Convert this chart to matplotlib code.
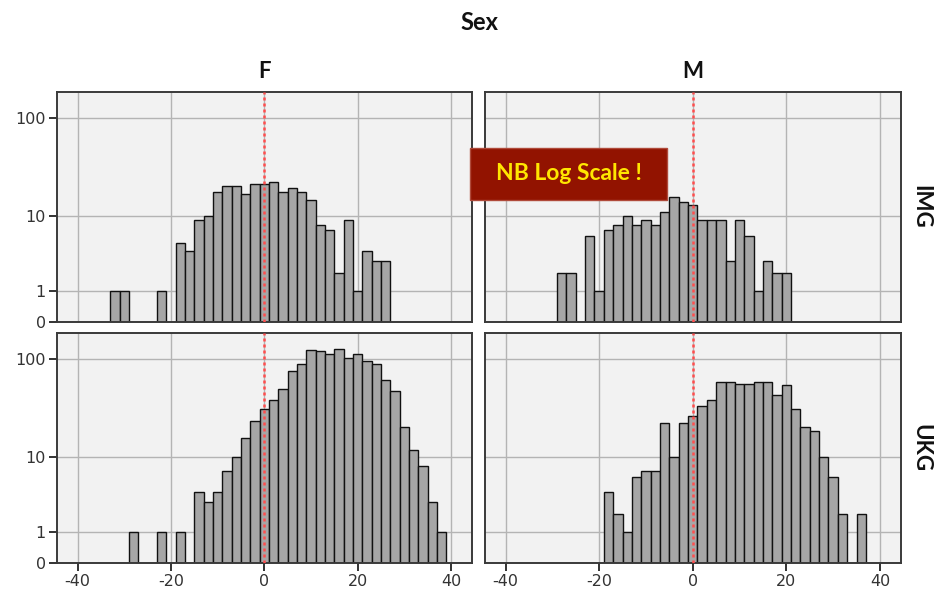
import numpy as np
import matplotlib
matplotlib.use("Agg")
import matplotlib.pyplot as plt
from matplotlib.patches import Rectangle

# ---------------- data ----------------
row_labels = ["IMG", "UKG"]
col_labels = ["F", "M"]
x_ticks = [-40, -20, 0, 20, 40]
y_ticks = [0, 1, 10, 100]

# bin centres (bin width 2)
img_f_centers = [-32, -30, -22, -18, -16, -14, -12, -10, -8, -6, -4, -2, 0, 2, 4, 6, 8,
                 10, 12, 14, 16, 18, 20, 22, 24, 26]
img_f_counts = [1, 1, 1, 5, 4, 9, 10, 18, 21, 21, 17, 22, 22, 23, 18, 20, 18,
                15, 8, 7, 2, 9, 1, 4, 3, 3]

img_m_centers = [-28, -26, -22, -20, -18, -16, -14, -12, -10, -8, -6, -4, -2, 0, 2, 4,
                 6, 8, 10, 12, 14, 16, 18, 20]
img_m_counts = [2, 2, 6, 1, 7, 8, 10, 8, 9, 8, 11, 16, 14, 13, 9, 9,
                9, 3, 9, 6, 1, 3, 2, 2]

ukg_f_centers = [-28, -22, -18, -14, -12, -10, -8, -6, -4, -2, 0, 2, 4, 6, 8, 10, 12,
                 14, 16, 18, 20, 22, 24, 26, 28, 30, 32, 34, 36, 38]
ukg_f_counts = [1, 1, 1, 4, 3, 4, 7, 10, 16, 24, 32, 39, 51, 77, 90, 123, 121,
                113, 127, 104, 113, 97, 90, 62, 48, 21, 12, 8, 3, 1]

ukg_m_centers = [-18, -16, -14, -12, -10, -8, -6, -4, -2, 0, 2, 4, 6, 8, 10, 12, 14,
                 16, 18, 20, 22, 24, 26, 28, 30, 32, 36]
ukg_m_counts = [4, 2, 1, 6, 7, 7, 23, 10, 23, 27, 34, 39, 59, 59, 57, 56, 59,
                59, 44, 55, 32, 21, 19, 10, 6, 2, 2]

panels = {
    (0, 0): (img_f_centers, img_f_counts),
    (0, 1): (img_m_centers, img_m_counts),
    (1, 0): (ukg_f_centers, ukg_f_counts),
    (1, 1): (ukg_m_centers, ukg_m_counts),
}

# ---------------- figure ----------------
W, H = 934, 597
fig = plt.figure(figsize=(W / 100, H / 100), dpi=100)
fig.patch.set_facecolor("white")

def fwd(y):
    y = np.asarray(y, dtype=float)
    return np.log10(np.clip(y, 0, None) + 1)

def inv(t):
    return 10 ** np.asarray(t, dtype=float) - 1

col_x = [(57, 472), (485, 901)]
row_y = [(92, 322), (333, 563)]

title_font = ["Lato", "DejaVu Sans"]

for (r, c), (centers, counts) in panels.items():
    x0, x1 = col_x[c]
    ytop, ybot = row_y[r]
    ax = fig.add_axes([x0 / W, 1 - ybot / H, (x1 - x0) / W, (ybot - ytop) / H])
    ax.set_facecolor("#F2F2F2")
    ax.set_yscale("function", functions=(fwd, inv))
    ax.set_ylim(0, 182)
    ax.set_xlim(-44.4, 44.5)
    ax.set_axisbelow(True)
    ax.grid(True, color="#B4B4B4", linewidth=1.0)
    ax.set_xticks(x_ticks)
    ax.set_yticks(y_ticks)
    ax.bar(centers, counts, width=2, color="#A6A6A6", edgecolor="#111111",
           linewidth=1.0, zorder=2)
    ax.axvline(0, color="#FF4D4D", linestyle=(0, (1.2, 1.2)), linewidth=1.8, zorder=3)
    for s in ax.spines.values():
        s.set_color("#3a3a3a")
        s.set_linewidth(1.4)
    ax.tick_params(axis="both", labelsize=11.5, labelcolor="#333333",
                   color="#222222", width=1.3, length=6, pad=2)
    ax.yaxis.set_minor_locator(matplotlib.ticker.NullLocator())
    if c == 0:
        ax.set_yticklabels([str(v) for v in y_ticks])
    else:
        ax.tick_params(axis="y", length=0, labelleft=False)
    if r == 1:
        ax.set_xticklabels([str(v) for v in x_ticks])
    else:
        ax.tick_params(axis="x", length=0, labelbottom=False)

# titles
fig.text(479 / W, 1 - 23 / H, "Sex", ha="center", va="center",
         fontsize=17, fontweight="bold", family=title_font, color="#111111")
for c, lab in enumerate(col_labels):
    xc = 264.5 if c == 0 else 693
    fig.text(xc / W, 1 - 72 / H, lab, ha="center", va="center",
             fontsize=16, fontweight="bold", family=title_font, color="#111111")
for r, lab in enumerate(row_labels):
    yc = (row_y[r][0] + row_y[r][1]) / 2
    fig.text(921 / W, 1 - yc / H, lab, ha="center", va="center", rotation=270,
             fontsize=16, fontweight="bold", family=title_font, color="#111111")

# annotation box
bx0, bx1, by0, by1 = 470, 667, 148, 200
fig.patches.append(Rectangle((bx0 / W, 1 - by1 / H), (bx1 - bx0) / W, (by1 - by0) / H,
                             transform=fig.transFigure, facecolor="#921300",
                             edgecolor="#B04A3A", linewidth=1.0, zorder=10))
fig.text((bx0 + bx1) / 2 / W, 1 - (by0 + by1) / 2 / H, "NB Log Scale !",
         ha="center", va="center", fontsize=16.5, fontweight="bold",
         family=title_font, color="#FFE600", zorder=11)

fig.savefig("out.png", dpi=100)
